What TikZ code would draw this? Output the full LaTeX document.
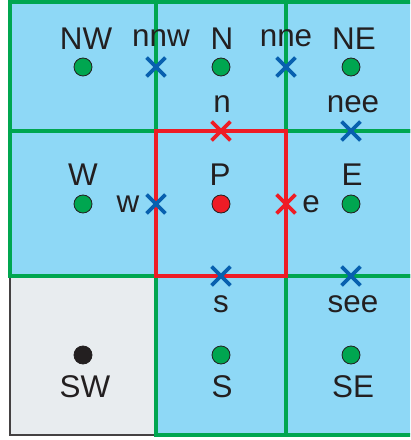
\documentclass[tikz,border=0pt]{standalone}
\usepackage{fontspec}
\setmainfont{Liberation Sans}
\usetikzlibrary{shapes.misc}

\definecolor{cellblue}{HTML}{8ED8F6}
\definecolor{cellgray}{HTML}{E8ECEF}
\definecolor{gridgreen}{HTML}{00A650}
\definecolor{facered}{HTML}{EE1C25}
\definecolor{crossblue}{HTML}{0860AF}
\definecolor{ink}{HTML}{231F20}

\begin{document}
\begin{tikzpicture}[x=1bp,y=-1bp,
  cellbox/.style={draw=gridgreen, line width=3.5bp},
  ctrlbox/.style={draw=facered, line width=3.5bp},
  nodedot/.style={circle, draw=ink, line width=0.8bp, fill=gridgreen,
    minimum size=18bp, inner sep=0pt},
  facex/.style={cross out, draw=crossblue, line width=3.8bp,
    minimum size=15bp, inner sep=0pt},
  lbl/.style={font=\fontsize{31.5}{31.5}\selectfont, text=ink, inner sep=0pt,
    anchor=base}
]
\useasboundingbox (0,0) rectangle (410,440);

\begin{scope}
  \clip (0,0) rectangle (410,440);
  % cell backgrounds
  \fill[cellblue] (10,2) rectangle (420,435);
  \fill[cellgray] (10,276) rectangle (156,435);
  \draw[ink!85, line width=2bp] (10,276) -- (10,435) -- (156,435);
  % neighbouring control volumes
  \draw[cellbox] (10,2) rectangle (156,131);
  \draw[cellbox] (156,2) rectangle (286,131);
  \draw[cellbox] (286,2) rectangle (420,131);
  \draw[cellbox] (10,131) rectangle (156,276);
  \draw[cellbox] (286,131) rectangle (420,276);
  \draw[cellbox] (156,276) rectangle (286,435);
  \draw[cellbox] (286,276) rectangle (420,435);
  % central control volume
  \draw[ctrlbox] (156,131) rectangle (286,276);
\end{scope}

% cell centres
\node[nodedot] (dNW) at (83,67) {};
\node[nodedot] (dN)  at (221,67) {};
\node[nodedot] (dNE) at (351,67) {};
\node[nodedot] (dW)  at (83,204) {};
\node[nodedot, fill=facered] (dP) at (221,204) {};
\node[nodedot] (dE)  at (351,204) {};
\node[nodedot, fill=ink] (dSW) at (83,355) {};
\node[nodedot] (dS)  at (221,355) {};
\node[nodedot] (dSE) at (351,355) {};

% face points
\node[facex] (fnnw) at (156,67) {};
\node[facex] (fnne) at (286,67) {};
\node[facex, draw=facered] (fn) at (221,131) {};
\node[facex] (fnee) at (351,131) {};
\node[facex] (fw) at (156,204) {};
\node[facex, draw=facered] (fe) at (286,204) {};
\node[facex] (fs) at (221,276) {};
\node[facex] (fsee) at (351,276) {};

% labels
\node[lbl] (tNW)  at (86,50)  {NW};
\node[lbl] (tnnw) at (161,47) {nnw};
\node[lbl] (tN)   at (222,50) {N};
\node[lbl] (tnne) at (286,47) {nne};
\node[lbl] (tNE)  at (354,50) {NE};
\node[lbl] (tn)   at (222,113) {n};
\node[lbl] (tnee) at (353,113) {nee};
\node[lbl] (tW)   at (83,186) {W};
\node[lbl] (tP)   at (220,186) {P};
\node[lbl] (tE)   at (352,186) {E};
\node[lbl] (tw)   at (128,213) {w};
\node[lbl] (te)   at (311,213) {e};
\node[lbl] (ts)   at (221,312) {s};
\node[lbl] (tsee) at (353,312) {see};
\node[lbl] (tSW)  at (85,397) {SW};
\node[lbl] (tS)   at (222,397) {S};
\node[lbl] (tSE)  at (353,397) {SE};
\end{tikzpicture}
\end{document}
